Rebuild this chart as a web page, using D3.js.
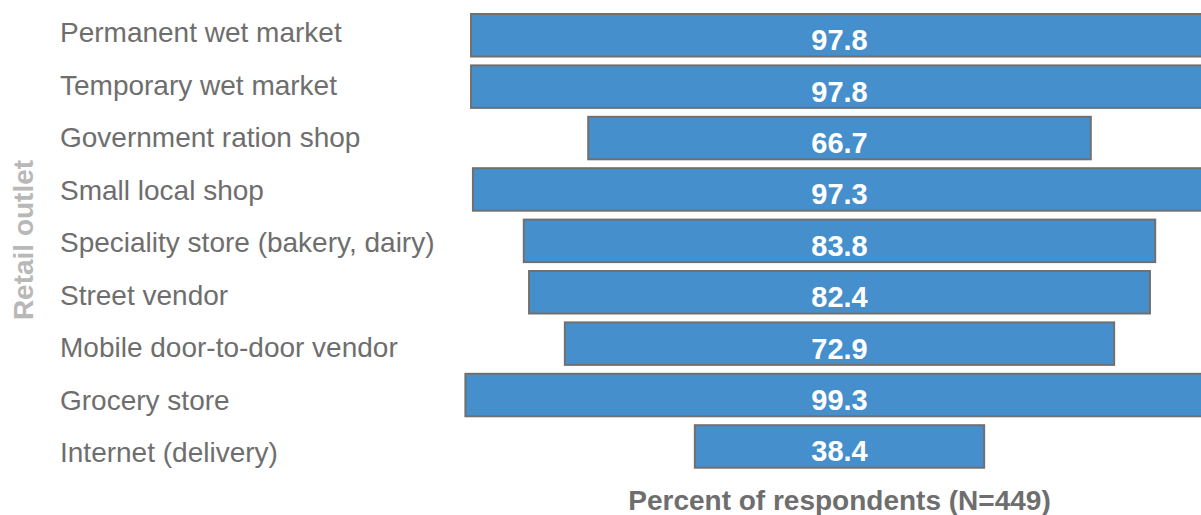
<!DOCTYPE html>
<html>
<head>
<meta charset="utf-8">
<script src="https://cdn.jsdelivr.net/npm/d3@7"></script>
<style>
  html, body { margin: 0; padding: 0; background: #fff; }
  svg { display: block; }
</style>
</head>
<body>
<svg id="chart" width="1201" height="515"></svg>
<script>
// Retail outlets and share of respondents using each (%)
const categories = [
  "Permanent wet market",
  "Temporary wet market",
  "Government ration shop",
  "Small local shop",
  "Speciality store (bakery, dairy)",
  "Street vendor",
  "Mobile door-to-door vendor",
  "Grocery store",
  "Internet (delivery)"
];
const values = [97.8, 97.8, 66.7, 97.3, 83.8, 82.4, 72.9, 99.3, 38.4];
const xTitle = "Percent of respondents (N=449)";
const yTitle = "Retail outlet";

const svg = d3.select("#chart");
const font = "'Liberation Sans', Arial, Helvetica, sans-serif";

// Bars are centred on a common axis, funnel style
const centerX = 839.5;
const x = d3.scaleLinear().domain([0, 100]).range([0, 753.5]);
const y = d3.scaleBand()
  .domain(categories)
  .range([14, 467.7])
  .paddingInner(0.173)
  .paddingOuter(0);
// Category labels sit on their own, slightly wider spaced rows
const yLabel = d3.scalePoint()
  .domain(categories)
  .range([35, 455]);

const data = categories.map((c, i) => ({ cat: c, val: values[i] }));

svg.append("g").selectAll("rect")
  .data(data)
  .join("rect")
  .attr("x", d => centerX - x(d.val) / 2)
  .attr("y", d => y(d.cat))
  .attr("width", d => x(d.val))
  .attr("height", y.bandwidth())
  .attr("fill", "#458fcd")
  .attr("stroke", "#707070")
  .attr("stroke-width", 2);

// Value labels inside bars
svg.append("g").selectAll("text")
  .data(data)
  .join("text")
  .attr("x", centerX)
  .attr("y", d => y(d.cat) + y.bandwidth() / 2 + 15)
  .attr("text-anchor", "middle")
  .attr("font-family", font)
  .attr("font-weight", "bold")
  .attr("font-size", 29)
  .attr("fill", "#ffffff")
  .text(d => d.val.toFixed(1));

// Category labels
svg.append("g").selectAll("text")
  .data(data)
  .join("text")
  .attr("x", 60)
  .attr("y", d => yLabel(d.cat) + 7)
  .attr("font-family", font)
  .attr("font-size", 28)
  .attr("fill", "#6e6e6e")
  .text(d => d.cat);

// Axis titles
svg.append("text")
  .attr("x", centerX)
  .attr("y", 510)
  .attr("text-anchor", "middle")
  .attr("font-family", font)
  .attr("font-weight", "bold")
  .attr("font-size", 28)
  .attr("fill", "#6e6e6e")
  .text(xTitle);

svg.append("text")
  .attr("transform", "translate(33,240) rotate(-90)")
  .attr("text-anchor", "middle")
  .attr("font-family", font)
  .attr("font-weight", "bold")
  .attr("font-size", 28)
  .attr("fill", "#b8b8b8")
  .text(yTitle);
</script>
</body>
</html>
